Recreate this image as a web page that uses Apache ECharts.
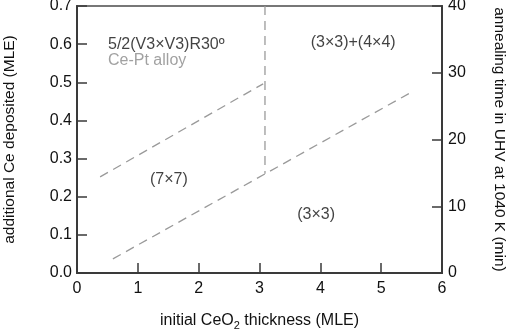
<!DOCTYPE html>
<html>
<head>
<meta charset="utf-8">
<script src="https://cdn.jsdelivr.net/npm/echarts@6/dist/echarts.min.js"></script>
<style>
html, body { margin: 0; padding: 0; background: #fff; }
#main { width: 510px; height: 333px; }
</style>
</head>
<body>
<div id="main"></div>
<script>
// 相图边界 (x: initial CeO2, y: additional Ce)
var upperLine = [[0.38, 0.252], [3.06, 0.496]];
var lowerLine = [[0.59, 0.037], [5.53, 0.477]];
var vertLine = [[3.09, 0.70], [3.09, 0.26]];
// 区域标签
var phaseLabels = [
	{ value: [0.51, 0.598], name: '5/2(V3×V3)R30º', color: '#111', align: 'left' },
	{ value: [0.51, 0.556], name: 'Ce-Pt alloy', color: '#8a8a8a', align: 'left' },
	{ value: [4.54, 0.603], name: '(3×3)+(4×4)', color: '#111', align: 'center' },
	{ value: [1.51, 0.244], name: '(7×7)', color: '#111', align: 'center' },
	{ value: [3.93, 0.152], name: '(3×3)', color: '#111', align: 'center' }
];

var font = 'Liberation Sans, Arial, sans-serif';
var axisColor = '#3a3a3a';

function dashLine(data) {
	return {
		type : 'line',
		data : data,
		symbol : 'none',
		silent : true,
		animation : false,
		lineStyle : {
			color : '#9a9a9a',
			width : 1.3,
			type : [9, 6]
		}
	};
}

var chart = echarts.init(document.getElementById('main'));
var option = {
	animation : false,
	grid : {
		left : 77,
		right : 68,
		top : 6,
		bottom : 60,
		outerBoundsMode : 'none',
		containLabel : false,
		show : true,
		borderColor : '#777',
		borderWidth : 2
	},
	xAxis : {
		type : 'value',
		min : 0,
		max : 6,
		interval : 1,
		position : 'bottom',
		name : '{a|initial CeO}{s|2}{a| thickness (MLE)}',
		nameLocation : 'middle',
		nameGap : 38,
		nameTextStyle : {
			rich : {
				a : { fontFamily : font, fontSize : 16, color : '#111' },
				s : { fontFamily : font, fontSize : 11, color : '#111', padding : [9, 0, 0, 0] }
			}
		},
		splitLine : { show : false },
		axisLine : { lineStyle : { color : axisColor, width : 2 } },
		axisTick : { inside : true, length : 10, lineStyle : { color : axisColor, width : 1.5 } },
		axisLabel : { fontFamily : font, fontSize : 16, color : '#111', margin : 8 }
	},
	yAxis : [ {
		type : 'value',
		min : 0,
		max : 0.7,
		interval : 0.1,
		position : 'left',
		name : 'additional Ce deposited (MLE)',
		nameLocation : 'middle',
		nameGap : 59,
		nameTextStyle : { fontFamily : font, fontSize : 15.5, color : '#111' },
		splitLine : { show : false },
		axisLine : { lineStyle : { color : axisColor, width : 2 } },
		axisTick : { inside : true, length : 10, lineStyle : { color : axisColor, width : 1.5 } },
		axisLabel : {
			fontFamily : font,
			fontSize : 16,
			color : '#111',
			margin : 5,
			formatter : function(v) { return v.toFixed(1); }
		}
	}, {
		type : 'value',
		min : 0,
		max : 40,
		interval : 10,
		position : 'right',
		name : 'annealing time in UHV at 1040 K (min)',
		nameLocation : 'middle',
		nameRotate : -90,
		nameGap : 49,
		nameTextStyle : { fontFamily : font, fontSize : 15.5, color : '#111' },
		splitLine : { show : false },
		axisLine : { lineStyle : { color : axisColor, width : 2 } },
		axisTick : { inside : true, length : 10, lineStyle : { color : axisColor, width : 1.5 } },
		axisLabel : { fontFamily : font, fontSize : 16, color : '#111', margin : 6 }
	} ],
	series : [
		dashLine(upperLine),
		dashLine(lowerLine),
		dashLine(vertLine),
		{
			type : 'scatter',
			symbolSize : 0,
			silent : true,
			data : phaseLabels.map(function(p) {
				return {
					value : p.value,
					label : {
						show : true,
						position : 'inside',
						formatter : p.name,
						align : p.align,
						verticalAlign : 'middle',
						fontFamily : font,
						fontSize : 16,
						color : p.color
					}
				};
			})
		}
	]
};
chart.setOption(option);
</script>
</body>
</html>
